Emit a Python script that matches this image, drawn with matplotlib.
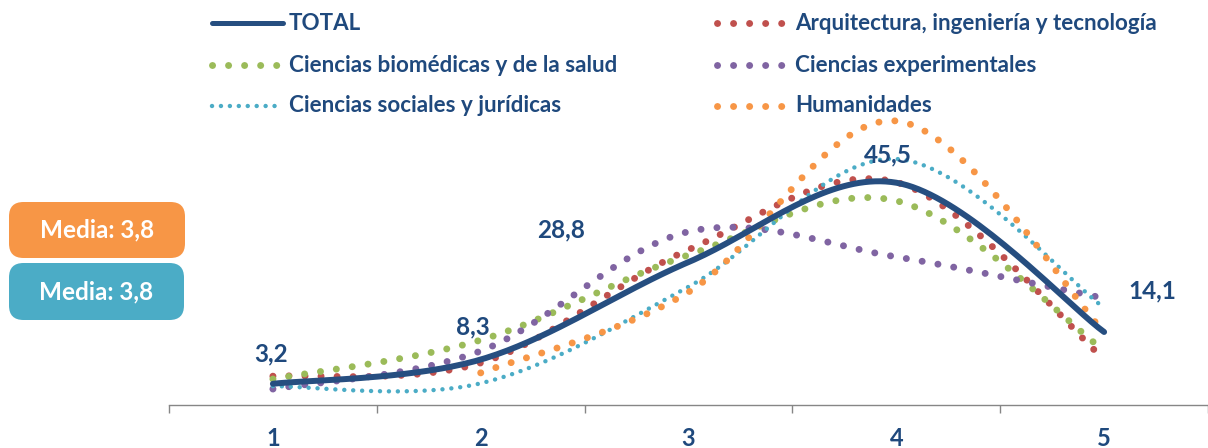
import numpy as np
import matplotlib
matplotlib.use("Agg")
import matplotlib.pyplot as plt
from matplotlib.patches import FancyBboxPatch
from matplotlib.lines import Line2D

categories = [1, 2, 3, 4, 5]
total = [3.2, 8.3, 28.8, 45.5, 14.1]
arquitectura = [4.8, 7.6, 31.4, 45.6, 8.4]
biomedicas = [4.2, 12.4, 30.3, 41.7, 10.2]
experimentales = [2.1, 10.1, 35.2, 29.9, 21.2]
sociales = [2.7, 3.3, 23.6, 50.5, 19.2]
humanidades = [np.nan, 5.5, 22.5, 58.5, 14.1]
total_labels = ["3,2", "8,3", "28,8", "45,5", "14,1"]
media_labels = ["Media: 3,8", "Media: 3,8"]

NAVY = "#1F497D"
FONT = ["Lato", "DejaVu Sans"]


def smooth(xs, ys, n=40):
    """Excel-style smoothed curve (Catmull-Rom Bezier) through valid points."""
    xs = np.asarray(xs, float)
    ys = np.asarray(ys, float)
    m = ~np.isnan(ys)
    P = np.column_stack([xs[m], ys[m]])
    out = []
    for i in range(len(P) - 1):
        p0 = P[i - 1] if i > 0 else P[i]
        p1 = P[i]
        p2 = P[i + 1]
        p3 = P[i + 2] if i + 2 < len(P) else P[i + 1]
        c1 = p1 + (p2 - p0) / 6.0
        c2 = p2 - (p3 - p1) / 6.0
        t = np.linspace(0, 1, n)[:, None]
        seg = ((1 - t) ** 3) * p1 + 3 * ((1 - t) ** 2) * t * c1 + 3 * (1 - t) * t ** 2 * c2 + t ** 3 * p2
        out.append(seg if i == 0 else seg[1:])
    c = np.vstack(out)
    return c[:, 0], c[:, 1]


fig = plt.figure(figsize=(12.08, 4.48), dpi=100)
ax = fig.add_axes([169 / 1208, 43 / 448, 1 - 169 / 1208, 305 / 448])
ax.set_xlim(0.5, 5.5)
ax.set_ylim(-1.26, 62.9)

series = [
    ("Arquitectura, ingeniería y tecnología", arquitectura, "#C0504D", 5.0, 2.3),
    ("Ciencias biomédicas y de la salud", biomedicas, "#9BBB59", 5.0, 2.3),
    ("Ciencias experimentales", experimentales, "#8064A2", 5.0, 2.3),
    ("Ciencias sociales y jurídicas", sociales, "#4BACC6", 3.2, 2.0),
    ("Humanidades", humanidades, "#F79646", 5.0, 2.3),
]
for name, vals, col, lw, gap in series:
    sx, sy = smooth(categories, vals)
    ax.plot(sx, sy, color=col, lw=lw, linestyle=(0, (0.01, gap)),
            dash_capstyle="round", clip_on=False, zorder=2)

sx, sy = smooth(categories, total)
ax.plot(sx, sy, color="#264E80", lw=4.3, solid_capstyle="round", clip_on=False, zorder=3)

# data labels for TOTAL
offsets = [(-2, 30), (-8, 33), (-127, 32), (-8, 28), (48, 41)]
for x, v, lab, (dx, dy) in zip(categories, total, total_labels, offsets):
    ax.annotate(lab, (x, v), xytext=(dx, dy), textcoords="offset pixels",
                ha="center", va="center", fontsize=17.5, fontweight="bold",
                color=NAVY, family=FONT, zorder=5)

# axes styling
for s in ["top", "right", "left"]:
    ax.spines[s].set_visible(False)
ax.spines["bottom"].set_color("#868686")
ax.spines["bottom"].set_linewidth(1.0)
ax.set_yticks([])
ax.set_xticks([0.5, 1.5, 2.5, 3.5, 4.5, 5.5])
ax.set_xticklabels([])
ax.tick_params(axis="x", which="major", length=6, color="#868686", width=1.0)
ax.set_xticks(categories, minor=True)
ax.set_xticklabels([str(c) for c in categories], minor=True)
ax.tick_params(axis="x", which="minor", length=0, pad=16, labelsize=17, labelcolor=NAVY)
for t in ax.get_xticklabels(minor=True):
    t.set_fontweight("bold")
    t.set_family(FONT)

# legend (manual)
leg = [
    (212, 283, 289, 23, "TOTAL", "#264E80", None),
    (212, 283, 289, 65, "Ciencias biomédicas y de la salud", "#9BBB59", (5.0, 2.3)),
    (212, 283, 289, 106, "Ciencias sociales y jurídicas", "#4BACC6", (3.2, 2.0)),
    (717, 787, 795, 23, "Arquitectura, ingeniería y tecnología", "#C0504D", (5.0, 2.3)),
    (717, 787, 795, 65, "Ciencias experimentales", "#8064A2", (5.0, 2.3)),
    (717, 787, 795, 106, "Humanidades", "#F79646", (5.0, 2.3)),
]
W, H = 1208, 448
for x0, x1, xt, y, text, col, sty in leg:
    yy = 1 - y / H
    if sty is None:
        fig.add_artist(Line2D([x0 / W, x1 / W], [yy, yy], color=col, lw=3.6,
                              solid_capstyle="round"))
    else:
        lw, gap = sty
        fig.add_artist(Line2D([x0 / W, x1 / W], [yy, yy], color=col, lw=lw,
                              linestyle=(0, (0.01, gap)), dash_capstyle="round"))
    fig.text(xt / W, yy, text, ha="left", va="center", fontsize=16.1,
             fontweight="bold", color=NAVY, family=FONT)

# media boxes
boxes = [(9, 202, 176, 56, "#F79646"), (9, 263, 175, 57, "#4BACC6")]
for (bx, by, bw, bh, col), lab in zip(boxes, media_labels):
    p = FancyBboxPatch((bx / W, 1 - (by + bh) / H), bw / W, bh / H,
                       boxstyle="round,pad=0,rounding_size=0.012",
                       transform=fig.transFigure, facecolor=col, edgecolor="none",
                       mutation_aspect=W / H)
    fig.add_artist(p)
    fig.text((bx + bw / 2) / W, 1 - (by + bh / 2) / H, lab, ha="center", va="center",
             fontsize=17.5, fontweight="bold", color="white", family=FONT)

fig.savefig("out.png", dpi=100)
